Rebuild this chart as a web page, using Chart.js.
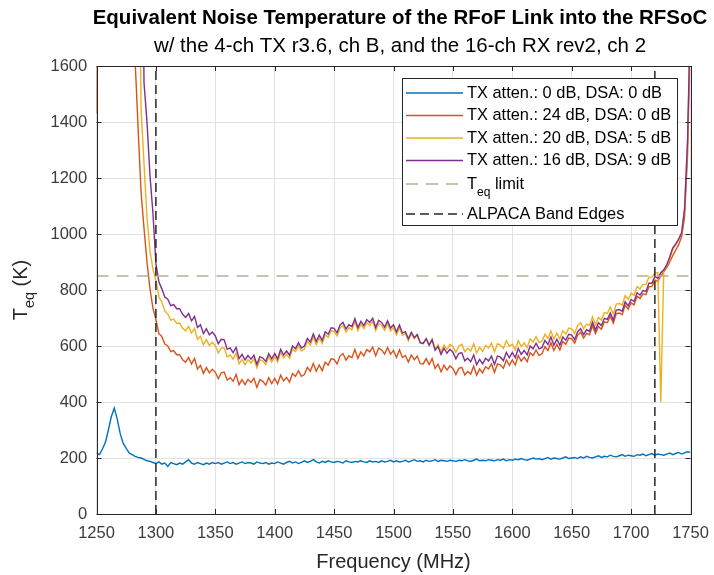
<!DOCTYPE html>
<html>
<head>
<meta charset="utf-8">
<title>Equivalent Noise Temperature of the RFoF Link</title>
<script src="https://cdn.jsdelivr.net/npm/chart.js@4.4.1/dist/chart.umd.min.js"></script>
<style>
  html, body { margin: 0; padding: 0; background: #fff; }
  #wrap { width: 714px; height: 575px; }
</style>
</head>
<body>
<div id="wrap"><canvas id="chart" width="714" height="575"></canvas></div>
<script>
// sample frequencies (MHz)
const freq = [
  1250, 1252.5, 1255, 1257.5, 1260, 1262.5, 1265, 1267.5, 1270, 1272.5,
  1275, 1277.5, 1280, 1282.5, 1285, 1287.5, 1290, 1292.5, 1295, 1297.5,
  1300, 1302.5, 1305, 1307.5, 1310, 1312.5, 1315, 1317.5, 1320, 1322.5,
  1325, 1327.5, 1330, 1332.5, 1335, 1337.5, 1340, 1342.5, 1345, 1347.5,
  1350, 1352.5, 1355, 1357.5, 1360, 1362.5, 1365, 1367.5, 1370, 1372.5,
  1375, 1377.5, 1380, 1382.5, 1385, 1387.5, 1390, 1392.5, 1395, 1397.5,
  1400, 1402.5, 1405, 1407.5, 1410, 1412.5, 1415, 1417.5, 1420, 1422.5,
  1425, 1427.5, 1430, 1432.5, 1435, 1437.5, 1440, 1442.5, 1445, 1447.5,
  1450, 1452.5, 1455, 1457.5, 1460, 1462.5, 1465, 1467.5, 1470, 1472.5,
  1475, 1477.5, 1480, 1482.5, 1485, 1487.5, 1490, 1492.5, 1495, 1497.5,
  1500, 1502.5, 1505, 1507.5, 1510, 1512.5, 1515, 1517.5, 1520, 1522.5,
  1525, 1527.5, 1530, 1532.5, 1535, 1537.5, 1540, 1542.5, 1545, 1547.5,
  1550, 1552.5, 1555, 1557.5, 1560, 1562.5, 1565, 1567.5, 1570, 1572.5,
  1575, 1577.5, 1580, 1582.5, 1585, 1587.5, 1590, 1592.5, 1595, 1597.5,
  1600, 1602.5, 1605, 1607.5, 1610, 1612.5, 1615, 1617.5, 1620, 1622.5,
  1625, 1627.5, 1630, 1632.5, 1635, 1637.5, 1640, 1642.5, 1645, 1647.5,
  1650, 1652.5, 1655, 1657.5, 1660, 1662.5, 1665, 1667.5, 1670, 1672.5,
  1675, 1677.5, 1680, 1682.5, 1685, 1687.5, 1690, 1692.5, 1695, 1697.5,
  1700, 1702.5, 1705, 1707.5, 1710, 1712.5, 1715, 1717.5, 1720, 1722.5,
  1725, 1727.5, 1730, 1732.5, 1735, 1737.5, 1740, 1742.5, 1745, 1747.5,
  1750
];

// Teq (K) per setting
const tx0dsa0 = [
  218, 212, 232, 256, 300, 348, 378, 338, 286, 252,
  234, 218, 212, 206, 202, 200, 195, 190, 188, 184,
  180, 186, 178, 182, 170, 184, 180, 176, 182, 178,
  186, 194, 182, 178, 184, 180, 176, 182, 178, 184,
  180, 184, 178, 182, 186, 180, 184, 178, 182, 186,
  180, 184, 182, 178, 186, 182, 180, 184, 178, 182,
  180, 186, 182, 178, 184, 188, 182, 186, 180, 184,
  190, 184, 188, 194, 186, 182, 188, 184, 190, 186,
  184, 188, 186, 182, 190, 186, 184, 188, 186, 190,
  186, 184, 190, 186, 188, 184, 190, 186, 188, 192,
  186, 190, 186, 188, 192, 186, 190, 194, 188, 190,
  186, 192, 188, 190, 194, 188, 192, 190, 188, 192,
  190, 188, 192, 190, 194, 190, 188, 192, 196, 190,
  192, 190, 194, 192, 190, 194, 192, 196, 190, 194,
  192, 196, 194, 198, 194, 192, 196, 200, 196, 198,
  194, 198, 202, 196, 200, 198, 196, 200, 204, 198,
  200, 202, 198, 204, 200, 206, 202, 200, 204, 208,
  202, 206, 204, 210, 206, 204, 208, 212, 206, 210,
  208, 206, 212, 210, 214, 208, 212, 216, 210, 214,
  212, 210, 214, 218, 212, 216, 220, 214, 218, 222,
  220
];

const tx24dsa0 = [
  1430, 2500, 2500, 2500, 2500, 2500, 2500, 2500, 2500, 2500,
  2500, 2500, 2500, 1620, 1380, 1150, 1020, 900, 805, 735,
  695, 644, 634, 607, 600, 580, 584, 569, 569, 551,
  542, 559, 536, 555, 518, 531, 502, 523, 504, 517,
  506, 483, 504, 507, 478, 487, 474, 498, 462, 480,
  462, 481, 470, 485, 452, 480, 474, 460, 487, 466,
  484, 464, 496, 475, 488, 471, 502, 492, 512, 492,
  498, 524, 510, 538, 510, 532, 512, 542, 532, 554,
  552, 536, 564, 573, 550, 565, 558, 587, 556, 579,
  565, 587, 579, 596, 565, 593, 586, 571, 595, 571,
  584, 559, 586, 559, 566, 543, 568, 551, 564, 537,
  536, 555, 534, 555, 520, 535, 508, 531, 514, 529,
  520, 498, 520, 524, 497, 509, 500, 528, 496, 518,
  504, 526, 518, 536, 506, 536, 532, 521, 550, 531,
  550, 532, 566, 546, 560, 544, 576, 566, 586, 566,
  572, 598, 584, 612, 584, 606, 586, 616, 606, 628,
  626, 610, 638, 649, 628, 645, 640, 672, 644, 670,
  660, 686, 683, 706, 681, 716, 718, 712, 746, 732,
  754, 747, 778, 770, 786, 783, 812, 812, 836, 830,
  850, 866, 880, 900, 922, 942, 962, 990, 1060, 1280,
  1750
];

const tx20dsa5 = [
  2500, 2500, 2500, 2500, 2500, 2500, 2500, 2500, 2500, 2500,
  2500, 2500, 2500, 2500, 2500, 1450, 1250, 1060, 940, 875,
  835, 776, 757, 725, 714, 692, 696, 681, 682, 663,
  654, 670, 646, 663, 624, 635, 604, 623, 602, 613,
  601, 575, 593, 593, 561, 568, 553, 574, 536, 552,
  533, 551, 539, 554, 522, 551, 546, 534, 562, 543,
  562, 543, 577, 557, 571, 556, 589, 580, 601, 582,
  589, 616, 603, 632, 605, 628, 609, 640, 631, 654,
  652, 636, 664, 673, 650, 665, 658, 687, 655, 677,
  662, 683, 673, 688, 655, 681, 673, 656, 679, 654,
  666, 640, 666, 638, 644, 620, 644, 626, 638, 610,
  608, 626, 604, 625, 590, 605, 579, 603, 588, 605,
  598, 577, 600, 606, 580, 592, 582, 608, 575, 596,
  581, 602, 593, 610, 579, 608, 603, 591, 619, 599,
  606, 586, 619, 598, 611, 594, 625, 614, 633, 612,
  617, 642, 627, 654, 625, 646, 625, 654, 643, 664,
  661, 645, 673, 683, 661, 678, 673, 704, 676, 702,
  692, 719, 716, 739, 714, 750, 752, 746, 780, 766,
  788, 781, 812, 804, 820, 820, 846, 846, 860, 862,
  400, 872, 888, 912, 944, 960, 980, 1002, 1088, 1325,
  1780
];

const tx16dsa9 = [
  2500, 2500, 2500, 2500, 2500, 2500, 2500, 2500, 2500, 2500,
  2500, 2500, 2500, 2500, 2500, 2500, 1540, 1400, 1210, 1075,
  895, 829, 804, 775, 767, 744, 748, 733, 733, 713,
  702, 716, 690, 706, 666, 676, 644, 662, 640, 650,
  636, 608, 624, 622, 588, 593, 576, 595, 555, 570,
  550, 566, 553, 567, 534, 562, 557, 545, 573, 554,
  573, 554, 588, 568, 582, 567, 600, 591, 612, 593,
  600, 627, 614, 643, 616, 639, 620, 651, 642, 665,
  663, 647, 675, 684, 661, 676, 669, 698, 666, 688,
  673, 694, 684, 699, 666, 692, 684, 667, 690, 664,
  676, 650, 675, 646, 651, 626, 649, 630, 641, 612,
  609, 626, 603, 622, 585, 598, 570, 592, 574, 588,
  578, 554, 574, 576, 547, 556, 544, 568, 533, 552,
  536, 556, 547, 564, 534, 564, 560, 548, 577, 558,
  577, 558, 591, 570, 584, 568, 600, 590, 610, 590,
  595, 620, 605, 632, 603, 624, 603, 632, 621, 642,
  639, 623, 651, 662, 641, 658, 653, 685, 657, 683,
  673, 699, 695, 718, 693, 728, 730, 724, 758, 744,
  766, 759, 790, 782, 798, 795, 824, 824, 848, 842,
  862, 872, 890, 918, 950, 965, 982, 1004, 1090, 1330,
  1800
];

const seriesLabels = [
  'TX atten.: 0 dB, DSA: 0 dB',
  'TX atten.: 24 dB, DSA: 0 dB',
  'TX atten.: 20 dB, DSA: 5 dB',
  'TX atten.: 16 dB, DSA: 9 dB'
];
const teqLimit = 850;
const bandEdges = [1300, 1720];
const xRange = [1250, 1750];
const yRange = [0, 1600];

const FONT = "'Liberation Sans', Arial, Helvetica, sans-serif";
const AXIS = '#262626';

function pts(vals) {
  return freq.map((f, i) => ({ x: f, y: vals[i] }));
}

// MATLAB style box + inward ticks
const boxPlugin = {
  id: 'boxPlugin',
  afterDatasetsDraw(chart) {
    const { ctx, chartArea: a, scales: { x, y } } = chart;
    ctx.save();
    ctx.strokeStyle = AXIS;
    ctx.lineWidth = 1;
    ctx.beginPath();
    x.ticks.forEach(t => {
      const px = Math.round(x.getPixelForValue(t.value)) + 0.5;
      ctx.moveTo(px, a.bottom); ctx.lineTo(px, a.bottom - 5);
      ctx.moveTo(px, a.top); ctx.lineTo(px, a.top + 5);
    });
    y.ticks.forEach(t => {
      const py = Math.round(y.getPixelForValue(t.value)) + 0.5;
      ctx.moveTo(a.left, py); ctx.lineTo(a.left + 5, py);
      ctx.moveTo(a.right, py); ctx.lineTo(a.right - 5, py);
    });
    ctx.stroke();
    ctx.strokeRect(Math.round(a.left) + 0.5, Math.round(a.top) + 0.5,
      Math.round(a.right - a.left), Math.round(a.bottom - a.top));
    ctx.restore();
  }
};

// legend box inside the axes, top right
const legendPlugin = {
  id: 'legendPlugin',
  afterDraw(chart) {
    const { ctx, chartArea: a } = chart;
    const w = 275, h = 147;
    const lx = Math.round(a.right - 14 - w), ly = Math.round(a.top + 12);
    const rowY = [15, 37.5, 60, 82.5, 106, 136];
    ctx.save();
    ctx.fillStyle = '#fff';
    ctx.fillRect(lx, ly, w, h);
    ctx.strokeStyle = AXIS;
    ctx.lineWidth = 1;
    ctx.strokeRect(lx + 0.5, ly + 0.5, w, h);
    chart.data.datasets.forEach(ds => {
      if (ds.legendRow === undefined) return;
      const yy = ly + rowY[ds.legendRow];
      ctx.strokeStyle = ds.borderColor;
      ctx.lineWidth = ds.borderWidth;
      ctx.setLineDash(ds.borderDash || []);
      ctx.beginPath();
      ctx.moveTo(lx + 4, yy);
      ctx.lineTo(lx + 61, yy);
      ctx.stroke();
      ctx.setLineDash([]);
      ctx.fillStyle = '#000';
      ctx.textBaseline = 'middle';
      ctx.textAlign = 'left';
      let tx = lx + 65;
      const parts = ds.legendText || [ds.label];
      ctx.font = '16.4px ' + FONT;
      ctx.fillText(parts[0], tx, yy);
      if (parts.length > 1) {
        tx += ctx.measureText(parts[0]).width;
        ctx.font = '12px ' + FONT;
        ctx.fillText(parts[1], tx, yy + 9);
        tx += ctx.measureText(parts[1]).width;
        ctx.font = '16.4px ' + FONT;
        ctx.fillText(parts[2], tx, yy);
      }
    });
    ctx.restore();
  }
};

// y axis title with subscript
const yTitlePlugin = {
  id: 'yTitlePlugin',
  afterDraw(chart) {
    const { ctx, chartArea: a } = chart;
    const parts = [['T', 20, 0], ['eq', 14.5, 9], [' (K)', 20, 0]];
    ctx.save();
    ctx.translate(21, (a.top + a.bottom) / 2);
    ctx.rotate(-Math.PI / 2);
    ctx.fillStyle = AXIS;
    ctx.textBaseline = 'middle';
    ctx.textAlign = 'left';
    let total = 0;
    parts.forEach(p => { ctx.font = p[1] + 'px ' + FONT; total += ctx.measureText(p[0]).width; });
    let tx = -total / 2;
    parts.forEach(p => {
      ctx.font = p[1] + 'px ' + FONT;
      ctx.fillText(p[0], tx, p[2]);
      tx += ctx.measureText(p[0]).width;
    });
    ctx.restore();
  }
};

const edgeStyle = { borderColor: AXIS, borderWidth: 1.5, borderDash: [9, 5], order: 0 };

new Chart(document.getElementById('chart'), {
  type: 'line',
  data: {
    datasets: [
      { label: seriesLabels[0], data: pts(tx0dsa0), borderColor: '#0072BD', borderWidth: 1.4, order: 4, legendRow: 0 },
      { label: seriesLabels[1], data: pts(tx24dsa0), borderColor: '#D95319', borderWidth: 1.4, order: 3, legendRow: 1 },
      { label: seriesLabels[2], data: pts(tx20dsa5), borderColor: '#EDB120', borderWidth: 1.4, order: 2, legendRow: 2 },
      { label: seriesLabels[3], data: pts(tx16dsa9), borderColor: '#7E2F8E', borderWidth: 1.4, order: 1, legendRow: 3 },
      { label: 'Teq limit', data: [{ x: xRange[0], y: teqLimit }, { x: xRange[1], y: teqLimit }],
        borderColor: '#adb595', borderWidth: 1.5, borderDash: [12, 8], order: 0, legendRow: 4,
        legendText: ['T', 'eq', ' limit'] },
      Object.assign({ label: 'ALPACA Band Edges', legendRow: 5,
        data: [{ x: bandEdges[0], y: yRange[0] }, { x: bandEdges[0], y: yRange[1] }] }, edgeStyle),
      Object.assign({ label: 'ALPACA Band Edges',
        data: [{ x: bandEdges[1], y: yRange[0] }, { x: bandEdges[1], y: yRange[1] }] }, edgeStyle)
    ]
  },
  options: {
    responsive: false,
    animation: false,
    events: [],
    layout: { padding: { left: 86, right: 0, top: 0, bottom: 0 } },
    elements: { point: { radius: 0 }, line: { tension: 0 } },
    plugins: {
      legend: { display: false },
      tooltip: { enabled: false },
      title: {
        display: true,
        text: 'Equivalent Noise Temperature of the RFoF Link into the RFSoC',
        color: '#000',
        font: { family: FONT, size: 20.5, weight: 'bold' },
        padding: { top: 5.7, bottom: 2 }
      },
      subtitle: {
        display: true,
        text: 'w/ the 4-ch TX r3.6, ch B, and the 16-ch RX rev2, ch 2',
        color: '#000',
        font: { family: FONT, size: 20.5 },
        padding: { top: 1.4, bottom: 7.7 }
      }
    },
    scales: {
      x: {
        type: 'linear',
        min: xRange[0], max: xRange[1],
        grid: { color: '#e2e2e2', drawTicks: true, tickLength: 10, tickColor: 'rgba(0,0,0,0)' },
        border: { display: false },
        ticks: { stepSize: 50, padding: 0, color: '#3c3c3c', font: { family: FONT, size: 16.5 },
          callback: v => String(v) },
        title: { display: true, text: 'Frequency (MHz)', color: AXIS,
          font: { family: FONT, size: 20 }, padding: { top: 0, bottom: 1 } },
        afterFit: s => { s.height = 61; }
      },
      y: {
        min: yRange[0], max: yRange[1],
        grid: { color: '#e2e2e2', drawTicks: false },
        border: { display: false },
        ticks: { stepSize: 200, mirror: true, crossAlign: 'far', padding: -46, color: '#3c3c3c',
          font: { family: FONT, size: 16.5 }, callback: v => String(v) },
        afterFit: s => { s.width = 10.5; }
      },
      yRight: {
        position: 'right',
        display: true,
        grid: { display: false, drawTicks: false },
        border: { display: false },
        ticks: { display: false },
        afterFit: s => { s.width = 23.5; }
      }
    }
  },
  plugins: [boxPlugin, legendPlugin, yTitlePlugin]
});
</script>
</body>
</html>
